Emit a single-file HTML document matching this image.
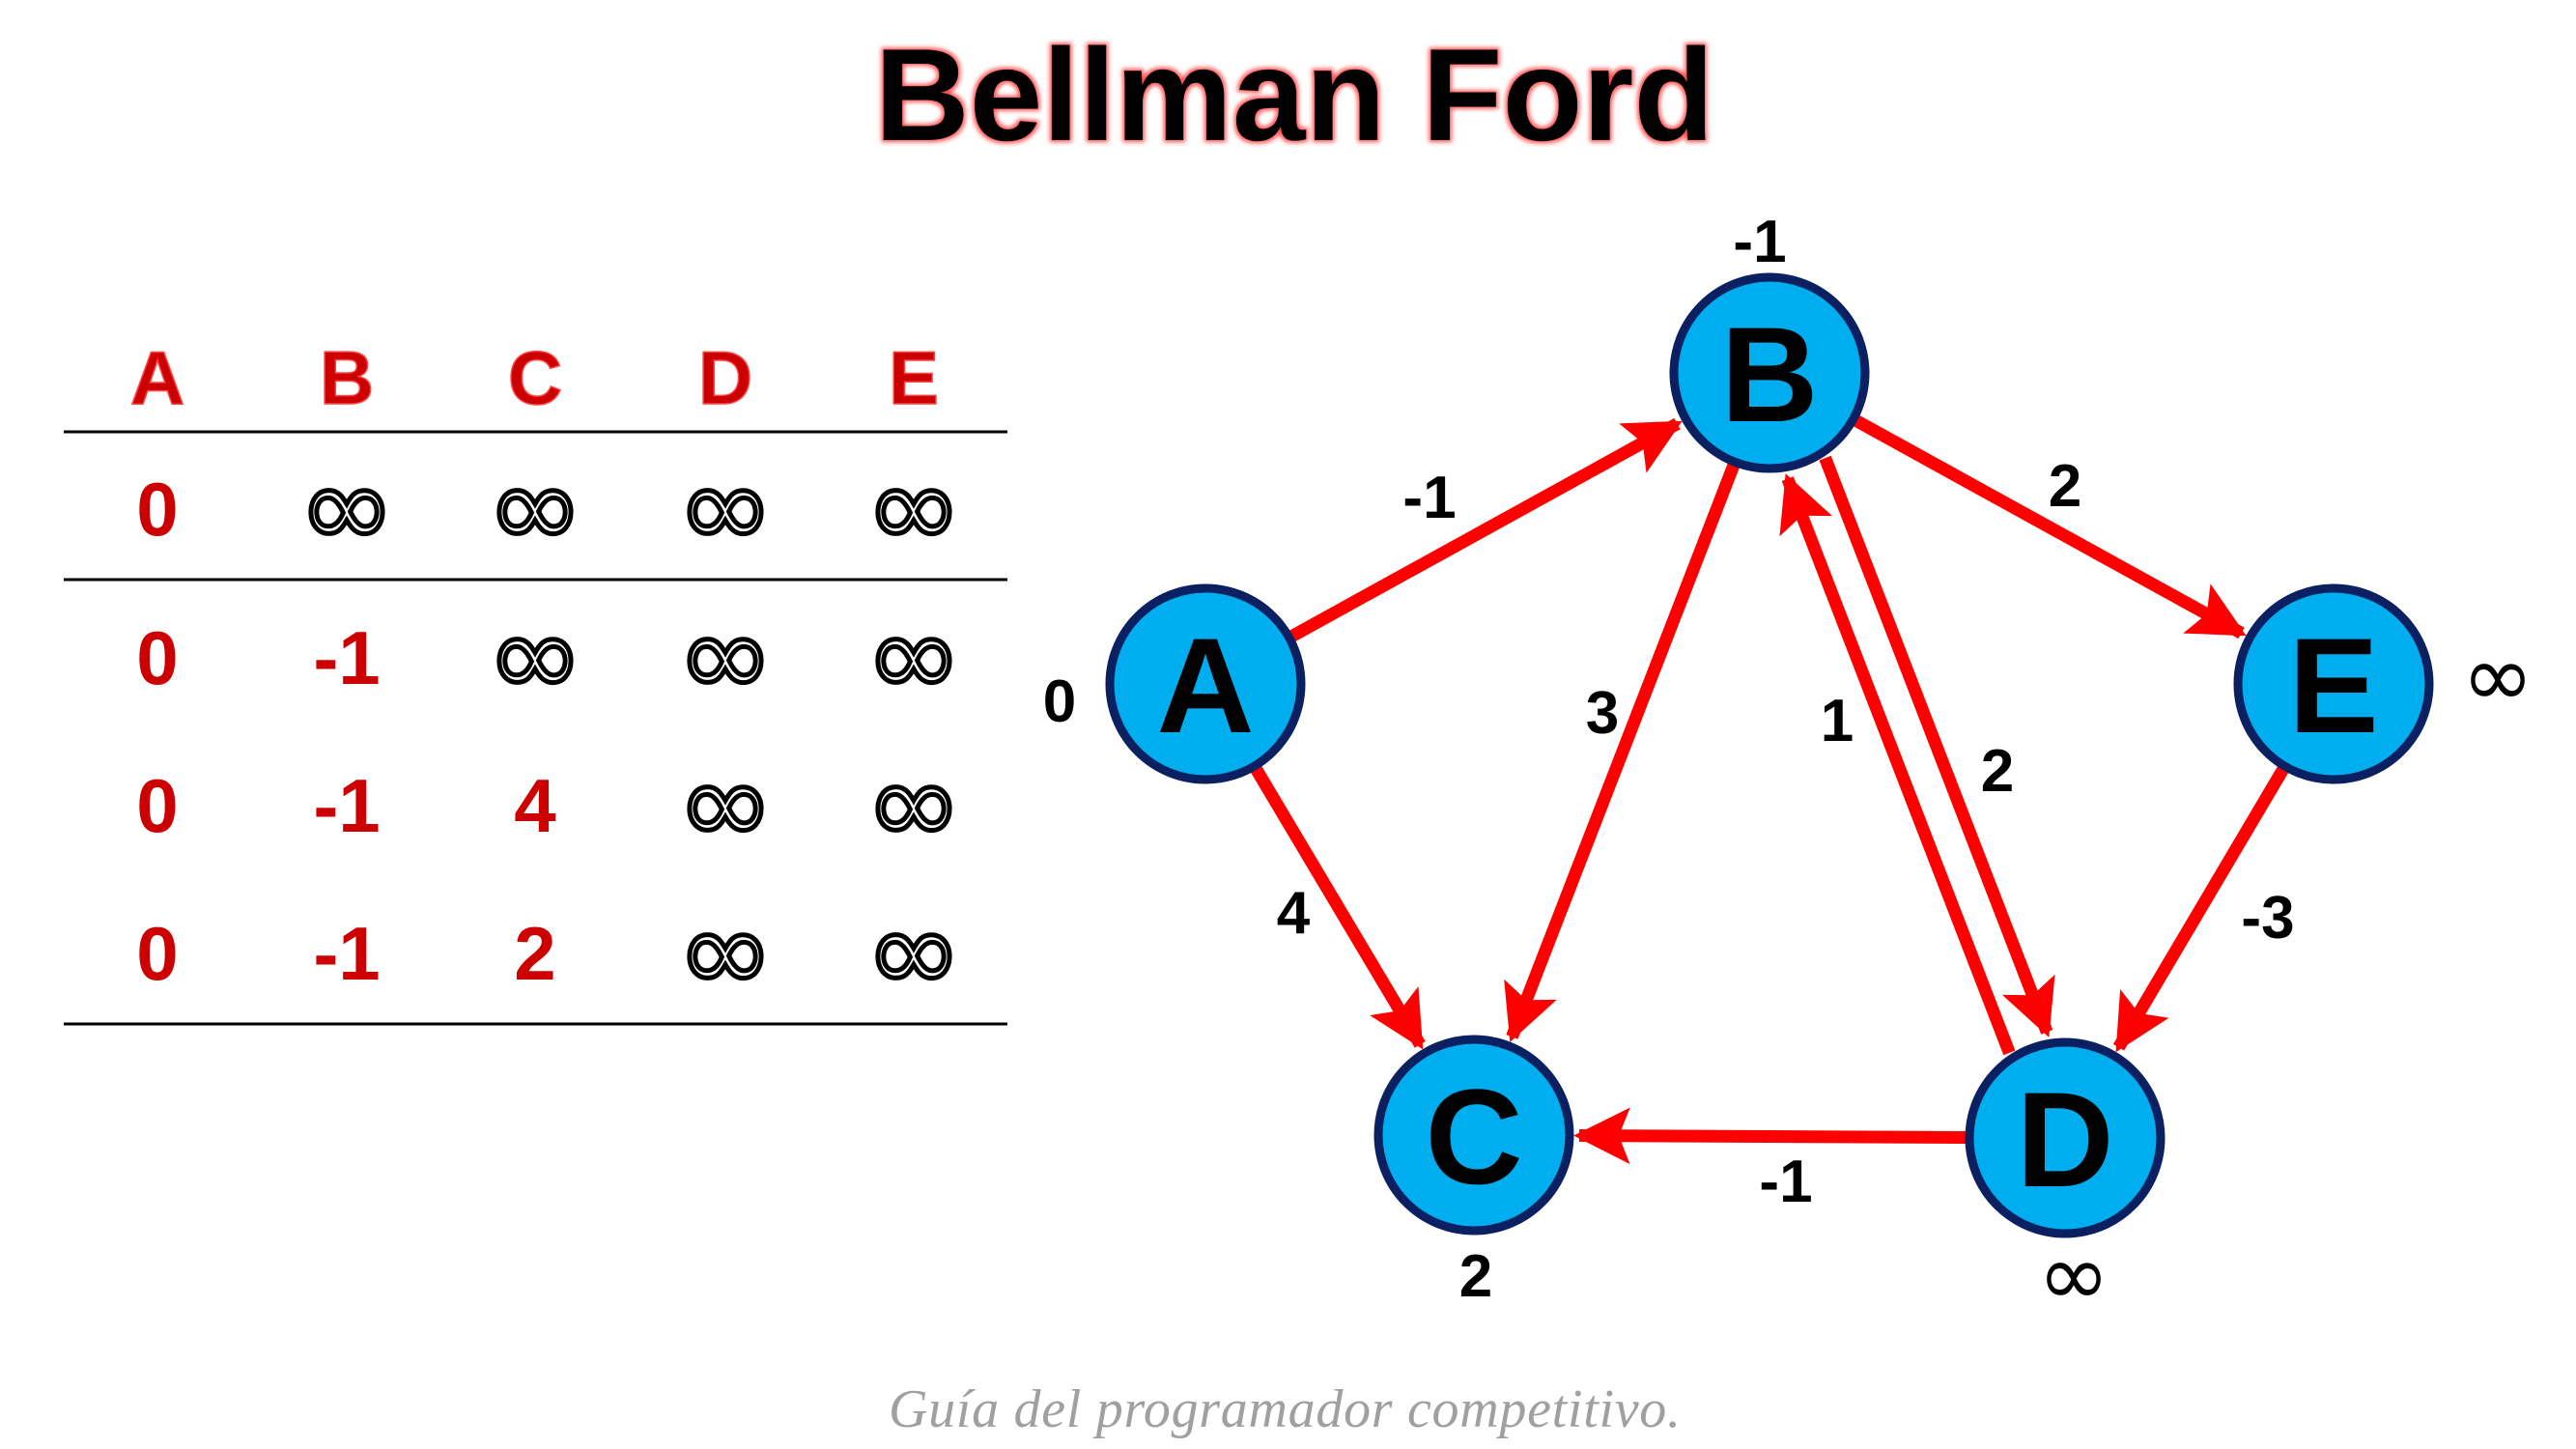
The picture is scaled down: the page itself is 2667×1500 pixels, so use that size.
<!DOCTYPE html>
<html><head><meta charset="utf-8"><style>
html,body{margin:0;padding:0;background:#fff;}
svg{display:block;font-family:"Liberation Sans",sans-serif;}
</style></head><body>
<svg id="chart" width="2667" height="1500" viewBox="0 0 2667 1500" xmlns="http://www.w3.org/2000/svg">
<defs>
<marker id="ah" viewBox="0 0 10 10" refX="9" refY="5" markerWidth="4.5" markerHeight="4.5" orient="auto" markerUnits="strokeWidth">
<path d="M0,0 L10,5 L0,10 L2,5 z" fill="#ff0000"/>
</marker>
<filter id="glow" x="-10%" y="-20%" width="120%" height="140%">
<feMorphology operator="dilate" radius="2" in="SourceAlpha" result="d"/>
<feGaussianBlur in="d" stdDeviation="2.5" result="b"/>
<feFlood flood-color="#ff5050"/><feComposite in2="b" operator="in" result="g"/>
<feMerge><feMergeNode in="g"/><feMergeNode in="SourceGraphic"/></feMerge>
</filter>
</defs>
<text x="1340" y="145" text-anchor="middle" font-size="136" font-weight="bold" fill="#000" filter="url(#glow)">Bellman Ford</text>
<g id="table"></g>
<g id="edges"></g>
<g id="nodes"></g>
<text x="1330" y="1477" text-anchor="middle" font-family="Liberation Serif, serif" font-style="italic" font-size="56" fill="#a0a0a0" textLength="820">Guía del programador competitivo.</text>
</svg>
<script>
const NS="http://www.w3.org/2000/svg";
const headers=["A","B","C","D","E"];
const rows=[["0","∞","∞","∞","∞"],["0","-1","∞","∞","∞"],["0","-1","4","∞","∞"],["0","-1","2","∞","∞"]];
const nodeNames=["A","B","C","D","E"];
const nodeX=[1248,1832,1526,2138,2416];
const nodeY=[708,386,1175,1178,708];
const nodeDist=["0","-1","2","∞","∞"];
const edgeFrom=["A","B","B","B","D","A","E","D"];
const edgeTo=["B","E","C","D","B","C","D","C"];
const edgeW=["-1","2","3","2","1","4","-3","-1"];
function el(tag,attrs,parent,txt){const e=document.createElementNS(NS,tag);for(const k in attrs)e.setAttribute(k,attrs[k]);if(txt!==undefined)e.textContent=txt;parent.appendChild(e);return e;}
// table
const tg=document.getElementById('table');
const colX=[163,359,554,751,946];
const rowY=[526,680,833,986];
headers.forEach((h,i)=>{const t=el('text',{x:colX[i],y:418,'text-anchor':'middle','font-size':78,'font-weight':'bold',fill:'#cc0000',stroke:'#ff4444','stroke-width':1.5},tg,h);

});
[447,600,1060].forEach((y,i)=>{const l=el('line',{x1:66,x2:1043,y1:y,y2:y,stroke:'#000','stroke-width':3},tg);

});
rows.forEach((r,ri)=>r.forEach((v,ci)=>{let t;
if(v==="∞"){t=el('text',{x:colX[ci],y:rowY[ri]+40,'text-anchor':'middle','font-size':120,fill:'#fff',stroke:'#000','stroke-width':5,'font-family':'DejaVu Sans, sans-serif'},tg,v);}
else{t=el('text',{x:colX[ci],y:rowY[ri]+28,'text-anchor':'middle','font-size':78,'font-weight':'bold',fill:'#cc0000'},tg,v);}

}));
// edges
const eg=document.getElementById('edges');
const R=103;
edgeFrom.forEach((f,i)=>{const a=nodeNames.indexOf(f),b=nodeNames.indexOf(edgeTo[i]);
let x1=nodeX[a],y1=nodeY[a],x2=nodeX[b],y2=nodeY[b];
const dx=x2-x1,dy=y2-y1,L=Math.hypot(dx,dy),ux=dx/L,uy=dy/L;
let ox=0,oy=0;
if((f==="B"&&edgeTo[i]==="D")||(f==="D"&&edgeTo[i]==="B")){ox=uy*22;oy=-ux*22;}
const sx=x1+ux*R+ox,sy=y1+uy*R+oy,ex=x2-ux*(R+6)+ox,ey=y2-uy*(R+6)+oy;
const ln=el('line',{x1:sx,y1:sy,x2:ex,y2:ey,stroke:'#ff0000','stroke-width':13,'marker-end':'url(#ah)'},eg);


});
const wX=[1480,2138,1659,2068,1902,1339,2348,1849];
const wY=[514,502,737,797,745,944,949,1222];
edgeW.forEach((w,i)=>{const t=el('text',{x:wX[i],y:wY[i]+22,'text-anchor':'middle','font-size':62,'font-weight':'bold',fill:'#000'},eg,w);

});
// nodes
const ng=document.getElementById('nodes');
const dX=[1097,1822,1528,2147,2586];
const dY=[725,249,1320,1323,703];
nodeNames.forEach((n,i)=>{const c=el('circle',{cx:nodeX[i],cy:nodeY[i],r:99,fill:'#00aeef',stroke:'#0a2060','stroke-width':9},ng);


const t=el('text',{x:nodeX[i],y:nodeY[i]+50,'text-anchor':'middle','font-size':140,'font-weight':'bold',fill:'#000'},ng,n);


const d=nodeDist[i];
const dt=el('text',{x:dX[i],y:dY[i]+(d==="∞"?28:22),'text-anchor':'middle','font-size':(d==="∞"?90:62),'font-weight':(d==="∞"?'normal':'bold'),fill:'#000','font-family':(d==="∞"?'DejaVu Sans, sans-serif':'Liberation Sans, sans-serif')},ng,d);


});
</script>
</body></html>
